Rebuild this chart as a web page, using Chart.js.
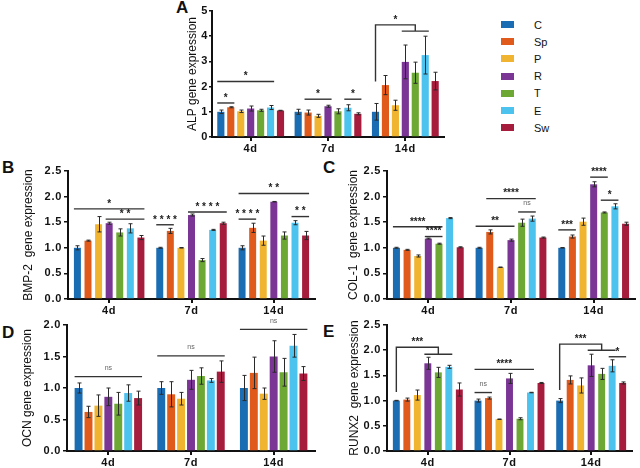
<!DOCTYPE html>
<html>
<head>
<meta charset="utf-8">
<script src="https://cdn.jsdelivr.net/npm/chart.js@4.4.1/dist/chart.umd.min.js"></script>
<style>
  body { margin: 0; background: #fff; font-family: "Liberation Sans", Arial, sans-serif; }
  #pagina { position: relative; width: 640px; height: 468px; overflow: hidden; }
  canvas { position: absolute; }
  .letra { position: absolute; font-weight: bold; font-size: 17px; color: #111; }
  #legenda { position: absolute; left: 501px; top: 16px; }
  .item { height: 17.2px; display: flex; align-items: center; font-size: 11px; color: #111; }
  .item span { display: inline-block; width: 13px; height: 7px; margin-right: 20px; }
</style>
</head>
<body>
<div id="pagina">
  <div class="letra" style="left:176px;top:-2px">A</div>
  <div class="letra" style="left:2px;top:158px">B</div>
  <div class="letra" style="left:323px;top:158px">C</div>
  <div class="letra" style="left:2px;top:323px">D</div>
  <div class="letra" style="left:323px;top:322px">E</div>
  <div id="legenda"></div>
  <canvas id="gA" width="300" height="160" style="left:150px;top:0px"></canvas>
  <canvas id="gB" width="320" height="170" style="left:0px;top:150px"></canvas>
  <canvas id="gC" width="320" height="170" style="left:320px;top:150px"></canvas>
  <canvas id="gD" width="320" height="163" style="left:0px;top:305px"></canvas>
  <canvas id="gE" width="320" height="163" style="left:320px;top:305px"></canvas>
</div>
<script>
// grupos e dias ----------------------------------------
var grupos = ["C", "Sp", "P", "R", "T", "E", "Sw"];
var cores = ["#1b6db3", "#e05a1c", "#f1b430", "#7a3595", "#6ea834", "#4cc2ef", "#a51c3d"];
var dias = ["4d", "7d", "14d"];

// ALP (linhas = 4d, 7d, 14d; colunas = grupos)
var alpMedia = [[1.0, 1.18, 1.02, 1.13, 1.06, 1.17, 1.05],
                [1.0, 0.97, 0.84, 1.22, 1.02, 1.16, 0.92],
                [1.0, 2.06, 1.26, 2.98, 2.55, 3.25, 2.22]];
var alpErro  = [[0.07, 0.02, 0.05, 0.1, 0.04, 0.08, 0.01],
                [0.1, 0.1, 0.06, 0.04, 0.1, 0.12, 0.04],
                [0.33, 0.38, 0.2, 0.67, 0.42, 0.75, 0.35]];

// BMP-2
var bmpMedia = [[1.0, 1.14, 1.46, 1.48, 1.30, 1.38, 1.20],
                [1.0, 1.33, 1.0, 1.64, 0.76, 1.35, 1.48],
                [1.0, 1.39, 1.14, 1.90, 1.24, 1.49, 1.24]];
var bmpErro  = [[0.04, 0.01, 0.15, 0.02, 0.07, 0.09, 0.04],
                [0.01, 0.05, 0.005, 0.02, 0.03, 0.01, 0.02],
                [0.04, 0.09, 0.09, 0.005, 0.07, 0.04, 0.08]];

// COL-1
var colMedia = [[1.0, 0.96, 0.84, 1.18, 1.08, 1.58, 1.01],
                [1.0, 1.31, 0.62, 1.15, 1.49, 1.57, 1.20],
                [1.0, 1.22, 1.51, 2.24, 1.69, 1.81, 1.47]];
var colErro  = [[0.01, 0.01, 0.02, 0.01, 0.01, 0.01, 0.01],
                [0.01, 0.04, 0.005, 0.02, 0.07, 0.05, 0.01],
                [0.005, 0.03, 0.07, 0.05, 0.01, 0.05, 0.03]];

// OCN
var ocnMedia = [[1.0, 0.62, 0.72, 0.86, 0.75, 0.92, 0.84],
                [1.0, 0.90, 0.83, 1.13, 1.19, 1.12, 1.26],
                [1.0, 1.24, 0.91, 1.50, 1.25, 1.67, 1.23]];
var ocnErro  = [[0.08, 0.09, 0.17, 0.14, 0.18, 0.13, 0.11],
                [0.1, 0.2, 0.1, 0.15, 0.13, 0.03, 0.17],
                [0.2, 0.25, 0.09, 0.25, 0.22, 0.18, 0.11]];

// RUNX2
var runMedia = [[1.0, 1.02, 1.11, 1.74, 1.56, 1.67, 1.22],
                [1.0, 1.05, 0.63, 1.44, 0.64, 1.16, 1.35],
                [1.0, 1.41, 1.30, 1.70, 1.53, 1.69, 1.35]];
var runErro  = [[0.005, 0.03, 0.1, 0.12, 0.1, 0.03, 0.13],
                [0.03, 0.02, 0.005, 0.1, 0.02, 0.005, 0.01],
                [0.04, 0.08, 0.15, 0.22, 0.11, 0.12, 0.02]];

// significancia: g = dia, de/ate = grupo
var anotacoes = {
  gA: [
    { g: 0, de: 0, ate: 1, y: 1.35, txt: "*" },
    { g: 0, de: 0, ate: 5, y: 2.2, txt: "*" },
    { g: 1, de: 1, ate: 3, y: 1.5, txt: "*" },
    { g: 1, de: 5, ate: 6, y: 1.5, txt: "*" },
    { chave: true, g: 2, y0: 2.2, y1: 4.45, de: 3, ate: 5, y: 4.2, txt: "*" }
  ],
  gB: [
    { g: 0, de: 0, ate: 6, y: 1.76, txt: "*" },
    { g: 0, de: 3, ate: 6, y: 1.56, txt: "* *" },
    { g: 1, de: 0, ate: 1, y: 1.45, txt: "* * * *" },
    { g: 1, de: 3, ate: 6, y: 1.70, txt: "* * * *" },
    { g: 2, de: 0, ate: 6, y: 2.06, txt: "* *" },
    { g: 2, de: 0, ate: 1, y: 1.56, txt: "* * * *" },
    { g: 2, de: 5, ate: 6, y: 1.61, txt: "* *" }
  ],
  gC: [
    { g: 0, de: 0, ate: 4, y: 1.41, txt: "****" },
    { g: 0, de: 3, ate: 4, y: 1.22, txt: "****" },
    { g: 1, de: 0, ate: 3, y: 1.42, txt: "**" },
    { g: 1, de: 1, ate: 5, y: 1.96, txt: "****" },
    { g: 1, de: 4, ate: 5, y: 1.70, txt: "ns" },
    { g: 2, de: 0, ate: 1, y: 1.35, txt: "***" },
    { g: 2, de: 3, ate: 4, y: 2.38, txt: "****" },
    { g: 2, de: 4, ate: 5, y: 1.93, txt: "*" }
  ],
  gD: [
    { g: 0, de: 0, ate: 6, y: 1.18, txt: "ns" },
    { g: 1, de: 0, ate: 6, y: 1.51, txt: "ns" },
    { g: 2, de: 0, ate: 6, y: 1.93, txt: "ns" }
  ],
  gE: [
    { chave: true, g: 0, y0: 1.17, y1: 2.06, de: 3, ate: 5, y: 1.92, txt: "***" },
    { g: 1, de: 0, ate: 1, y: 1.16, txt: "ns" },
    { g: 1, de: 0, ate: 5, y: 1.62, txt: "****" },
    { chave: true, g: 2, y0: 1.21, y1: 2.12, de: 3, ate: 5, y: 2.0, txt: "***" },
    { g: 2, de: 5, ate: 6, y: 1.87, txt: "*" }
  ]
};

// legenda ----------------------------------------------
var leg = document.getElementById("legenda");
grupos.forEach(function (nome, i) {
  leg.innerHTML += '<div class="item"><span style="background:' + cores[i] + '"></span>' + nome + '</div>';
});

// plugins ----------------------------------------------
// espaçamento das letras nos numeros dos eixos (estilo GraphPad), titulo sem espaço
var espacoEixo = {
  id: "espacoEixo",
  beforeDraw: function (chart) {
    Object.values(chart.scales).forEach(function (s) {
      if (s._semEspaco) return;
      var orig = s.drawTitle;
      s.drawTitle = function () {
        var c = this.ctx, ant = c.letterSpacing;
        c.letterSpacing = "0px";
        orig.apply(this, arguments);
        c.letterSpacing = ant;
      };
      s._semEspaco = true;
    });
    chart.ctx.letterSpacing = "0.7px";
  },
  beforeDatasetsDraw: function (chart) { chart.ctx.letterSpacing = "0px"; }
};

var barrasErro = {
  id: "barrasErro",
  afterDatasetsDraw: function (chart) {
    var ctx = chart.ctx, y = chart.scales.y;
    ctx.save();
    ctx.strokeStyle = "#2a2a2a";
    ctx.lineWidth = 1;
    chart.data.datasets.forEach(function (ds, i) {
      chart.getDatasetMeta(i).data.forEach(function (bar, j) {
        var v = ds.data[j], e = ds.erro[j];
        var x = Math.round(bar.x) + 0.5;
        var yt = y.getPixelForValue(v + e), yb = y.getPixelForValue(v - e);
        ctx.beginPath();
        ctx.moveTo(x, yt); ctx.lineTo(x, yb);
        ctx.moveTo(x - 2, yt); ctx.lineTo(x + 2, yt);
        ctx.moveTo(x - 2, yb); ctx.lineTo(x + 2, yb);
        ctx.stroke();
      });
    });
    ctx.restore();
  }
};

var sinais = {
  id: "sinais",
  afterDatasetsDraw: function (chart) {
    var lista = anotacoes[chart.canvas.id] || [];
    var ctx = chart.ctx, y = chart.scales.y;
    function px(g, s) { return chart.getDatasetMeta(s).data[g].x; }
    var meia = chart.getDatasetMeta(0).data[0].width / 2;
    ctx.save();
    ctx.strokeStyle = "#333";
    ctx.lineWidth = 1.4;
    ctx.textAlign = "center";
    ctx.textBaseline = "bottom";
    function texto(t, x, yy) {
      if (t === "ns") { ctx.font = "7px 'Liberation Sans'"; ctx.fillStyle = "#666"; }
      else { ctx.font = "bold 10px 'Liberation Sans'"; ctx.fillStyle = "#222"; }
      ctx.fillText(t, x, yy + (t === "ns" ? -3 : 2));
    }
    lista.forEach(function (a) {
      if (a.chave) {
        var xc = px(a.g, 0);
        var x1 = px(a.g, a.de) - meia, x2 = px(a.g, a.ate) + meia;
        var xm = (x1 + x2) / 2;
        var ya = y.getPixelForValue(a.y0), yt = y.getPixelForValue(a.y1), yg = y.getPixelForValue(a.y);
        ctx.beginPath();
        ctx.moveTo(xc, ya); ctx.lineTo(xc, yt); ctx.lineTo(xm, yt); ctx.lineTo(xm, yg);
        ctx.moveTo(x1, yg); ctx.lineTo(x2, yg);
        ctx.stroke();
        texto(a.txt, (xc + xm) / 2, yt - 2);
      } else {
        var xa = px(a.g, a.de) - meia, xb = px(a.g, a.ate) + meia;
        var yl = y.getPixelForValue(a.y);
        ctx.beginPath();
        ctx.moveTo(xa, yl); ctx.lineTo(xb, yl);
        ctx.stroke();
        texto(a.txt, (xa + xb) / 2, yl - 2);
      }
    });
    ctx.restore();
  }
};

// montagem ---------------------------------------------
function montaDados(media, erro) {
  return {
    labels: dias,
    datasets: grupos.map(function (nome, i) {
      return {
        label: nome,
        data: dias.map(function (d, j) { return media[j][i]; }),
        erro: dias.map(function (d, j) { return erro[j][i]; }),
        backgroundColor: cores[i],
        borderWidth: 0
      };
    })
  };
}

function desenha(id, media, erro, cfg) {
  new Chart(document.getElementById(id), {
    type: "bar",
    data: montaDados(media, erro),
    options: {
      responsive: false,
      animation: false,
      devicePixelRatio: 1,
      categoryPercentage: cfg.cat,
      barPercentage: cfg.bar,
      layout: { padding: { left: cfg.esq, top: cfg.topo, right: cfg.dir, bottom: 0 } },
      plugins: { legend: { display: false }, tooltip: { enabled: false } },
      scales: {
        x: {
          afterFit: function (s) { s.height = cfg.baixo; },
          border: { color: "#111", width: 2 },
          grid: { offset: false, drawOnChartArea: false, color: "#111", lineWidth: 2, tickLength: 4 },
          ticks: { color: "#111", padding: 1, font: { family: "Liberation Sans", size: 11, weight: "bold" } }
        },
        y: {
          min: 0,
          max: cfg.max,
          afterFit: function (s) { s.width = cfg.larg; },
          border: { color: "#111", width: 2 },
          grid: { drawOnChartArea: false, color: "#111", lineWidth: 1.5, tickLength: cfg.marca || 4 },
          ticks: {
            stepSize: cfg.passo,
            color: "#111",
            padding: cfg.pad || 2,
            font: { family: "Liberation Sans", size: 11, weight: "bold" },
            callback: function (v) { return cfg.passo < 1 ? v.toFixed(1) : v; }
          },
          title: {
            display: true,
            text: cfg.titulo,
            color: "#111",
            padding: 0,
            font: { family: "Liberation Sans", size: 12 }
          }
        }
      }
    },
    plugins: [espacoEixo, barrasErro, sinais]
  });
}

desenha("gA", alpMedia, alpErro, { titulo: "ALP gene expression", max: 5, passo: 1, esq: 35, larg: 27, topo: 11, dir: 6, baixo: 23, cat: 0.9, bar: 0.72, marca: 3, pad: 1 });
desenha("gB", bmpMedia, bmpErro, { titulo: "BMP-2  gene expression", max: 2.5, passo: 0.5, esq: 21, larg: 47, topo: 21, dir: 5, baixo: 21, cat: 0.9, bar: 0.66 });
desenha("gC", colMedia, colErro, { titulo: "COL-1  gene expression", max: 2.5, passo: 0.5, esq: 26, larg: 41, topo: 21, dir: 5, baixo: 21, cat: 0.9, bar: 0.66 });
desenha("gD", ocnMedia, ocnErro, { titulo: "OCN gene expression", max: 2, passo: 0.5, esq: 20, larg: 47, topo: 20, dir: 5, baixo: 17, cat: 0.84, bar: 0.8 });
desenha("gE", runMedia, runErro, { titulo: "RUNX2  gene expression", max: 2.5, passo: 0.5, esq: 27, larg: 40, topo: 20, dir: 8, baixo: 17, cat: 0.9, bar: 0.66 });
</script>
</body>
</html>
